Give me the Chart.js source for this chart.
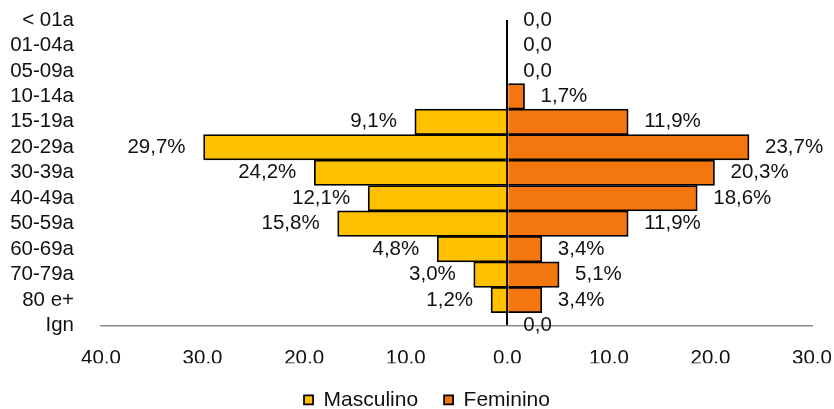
<!DOCTYPE html>
<html>
<head>
<meta charset="utf-8">
<script src="https://cdn.jsdelivr.net/npm/chart.js@4/dist/chart.umd.min.js"></script>
<style>
  html, body { margin: 0; padding: 0; background: #fff; }
  #wrap { width: 834px; height: 409px; }
</style>
</head>
<body>
<div id="wrap"><canvas id="piramide"></canvas></div>
<script>
var faixas = ['< 01a', '01-04a', '05-09a', '10-14a', '15-19a', '20-29a', '30-39a',
              '40-49a', '50-59a', '60-69a', '70-79a', '80 e+', 'Ign'];

// bar lengths as drawn (male side is plotted to the left)
var masculino = [0, 0, 0, 0, 9.1, 29.9, 19.0, 13.7, 16.7, 6.9, 3.3, 1.6, 0];
var feminino = [0, 0, 0, 1.7, 11.9, 23.8, 20.4, 18.7, 11.9, 3.4, 5.1, 3.4, 0];

// data label texts shown next to the bars
var rotulosMasc = ['', '', '', '', '9,1%', '29,7%', '24,2%', '12,1%', '15,8%', '4,8%', '3,0%', '1,2%', ''];
var rotulosFem = ['0,0', '0,0', '0,0', '1,7%', '11,9%', '23,7%', '20,3%', '18,6%', '11,9%', '3,4%', '5,1%', '3,4%', '0,0'];

var fonte = { family: '"Liberation Sans", Arial, sans-serif', size: 20.5 };

var rotulosPlugin = {
    id: 'rotulos',
    afterDatasetsDraw: function(chart) {
        var ctx = chart.ctx;
        ctx.save();
        ctx.font = fonte.size + 'px ' + fonte.family;
        ctx.fillStyle = '#111';
        ctx.textBaseline = 'middle';
        chart.data.datasets.forEach(function(ds, d) {
            var meta = chart.getDatasetMeta(d);
            meta.data.forEach(function(bar, i) {
                var txt = ds.rotulos[i];
                if (!txt) return;
                if (d === 0) {
                    ctx.textAlign = 'right';
                    ctx.fillText(txt, bar.x - 18, bar.y);
                } else {
                    ctx.textAlign = 'left';
                    ctx.fillText(txt, bar.x + 16, bar.y);
                }
            });
        });
        ctx.restore();
    }
};

var data = {
    labels: faixas,
    datasets: [
        {
            label: 'Masculino',
            data: masculino.map(function(v) { return -v; }),
            rotulos: rotulosMasc,
            backgroundColor: '#FFC000',
            borderColor: '#000',
            borderWidth: 1.75,
            barPercentage: 1,
            categoryPercentage: 1,
            clip: false
        },
        {
            label: 'Feminino',
            data: feminino,
            rotulos: rotulosFem,
            backgroundColor: '#F3760F',
            borderColor: '#000',
            borderWidth: 1.75,
            barPercentage: 1,
            categoryPercentage: 1,
            clip: false
        }
    ]
};

const config = {
    type: 'bar',
    data,
    options: {
        indexAxis: 'y',
        animation: false,
        responsive: true,
        maintainAspectRatio: false,
        layout: { padding: { top: 20, left: 10, right: -10, bottom: -11.25 } },
        scales: {
            x: {
                stacked: true,
                min: -40,
                max: 30,
                afterFit: function(axis) {
                    axis.height = 37.75;
                    axis.paddingLeft = 0;
                    axis.paddingRight = 22;
                },
                ticks: {
                    stepSize: 10,
                    padding: 21,
                    maxRotation: 0,
                    color: '#111',
                    font: fonte,
                    callback: function(v) { return Math.abs(v).toFixed(1).split('.').join(','); }
                },
                grid: {
                    drawTicks: false,
                    lineWidth: 2,
                    color: function(c) { return c.tick && c.tick.value === 0 ? '#000' : 'rgba(0,0,0,0)'; }
                },
                border: { display: true, color: '#8a8a8a', width: 1.5 }
            },
            y: {
                stacked: true,
                offset: false,
                afterFit: function(axis) {
                    axis.width = 91;
                    axis.paddingTop = 0;
                    axis.paddingBottom = 0;
                },
                ticks: { padding: 27, color: '#111', font: fonte, autoSkip: false },
                grid: { display: false, drawTicks: false },
                border: { display: false }
            }
        },
        plugins: {
            tooltip: { enabled: false },
            legend: {
                position: 'bottom',
                labels: {
                    boxWidth: 9,
                    boxHeight: 9,
                    padding: 26,
                    color: '#111',
                    font: { family: fonte.family, size: 21 }
                }
            }
        }
    },
    plugins: [rotulosPlugin]
};

new Chart(document.getElementById('piramide'), config);
</script>
</body>
</html>
